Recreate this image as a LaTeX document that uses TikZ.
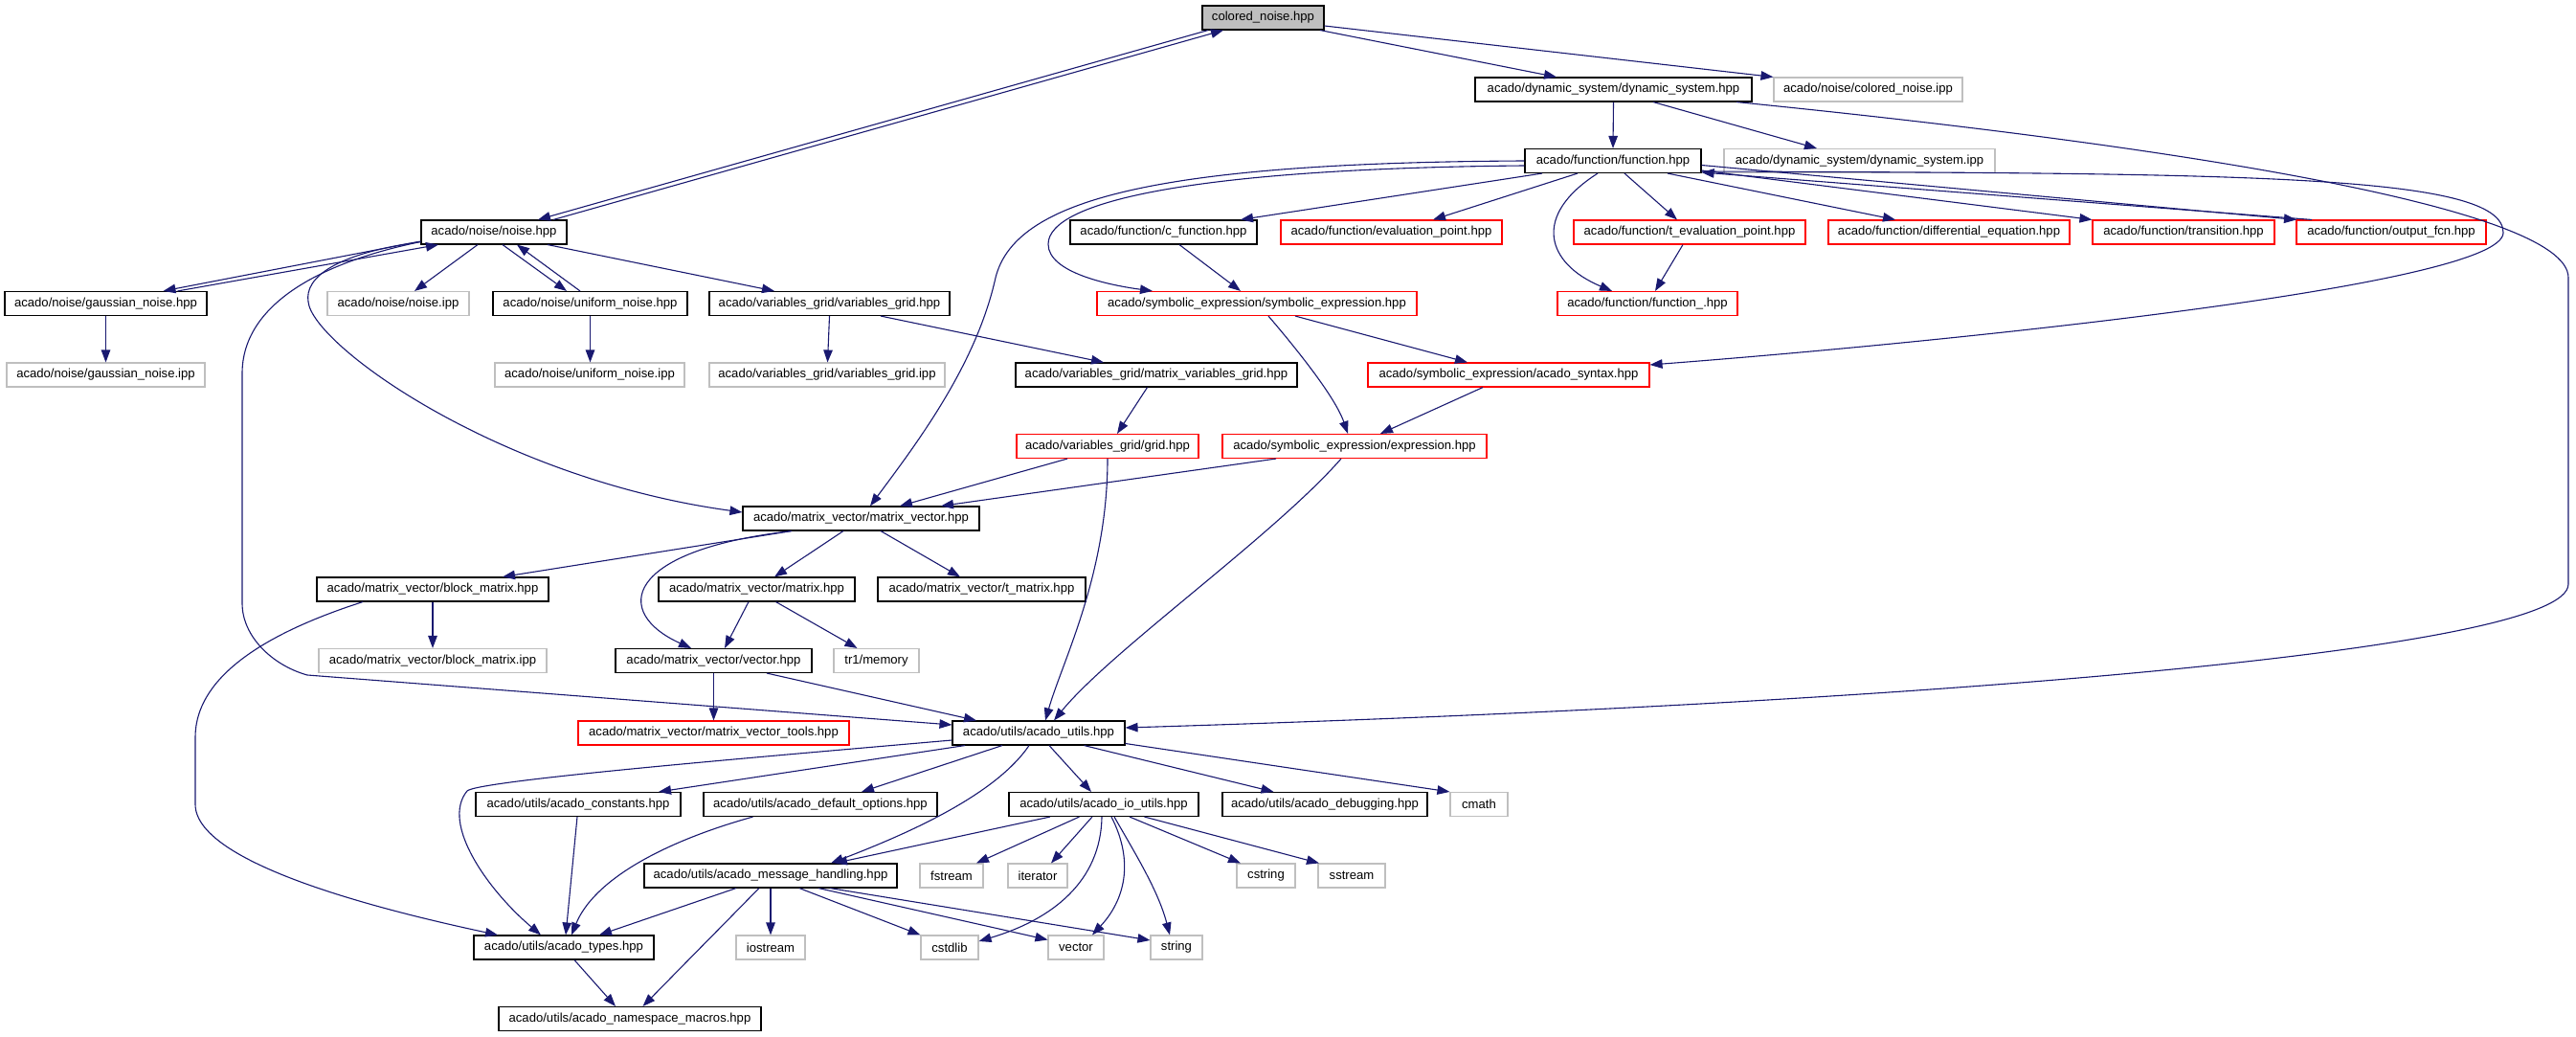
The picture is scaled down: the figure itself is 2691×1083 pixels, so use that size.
\documentclass[tikz,border=0pt]{standalone}
\usepackage{fontspec}
\setmainfont{Liberation Sans}
\usetikzlibrary{arrows.meta}
\definecolor{edgec}{HTML}{191970}
\definecolor{graybd}{HTML}{BFBFBF}
\definecolor{grayfill}{HTML}{BFBFBF}
\definecolor{redbd}{HTML}{FF0000}
\tikzset{
  box/.style={draw=black, line width=1.1pt, fill=white, minimum height=25pt, inner xsep=3pt, inner ysep=2pt,
    font=\fontsize{13.1}{15}\selectfont},
  gbox/.style={box, draw=graybd},
  rbox/.style={box, draw=redbd},
  edge/.style={draw=edgec, line width=1.1pt, -{Triangle[length=13pt,width=9.5pt]}}
}
\begin{document}
\begin{tikzpicture}[x=1pt,y=-1pt]
\useasboundingbox (0,0) rectangle (2691,1083);
% row 0
\node[box, fill=grayfill, minimum width=127pt] (cn) at (1319.5,18.5) {colored\_noise.hpp};
% row 1
\node[box, minimum width=289pt] (ds) at (1685.5,93.5) {acado/dynamic\_system/dynamic\_system.hpp};
\node[gbox, minimum width=197pt] (cnipp) at (1951.5,93.5) {acado/noise/colored\_noise.ipp};
% row 2
\node[box, minimum width=184pt] (fn) at (1685,168) {acado/function/function.hpp};
\node[gbox, minimum width=283pt] (dsipp) at (1942.5,168) {acado/dynamic\_system/dynamic\_system.ipp};
% row 3
\node[box, minimum width=152pt] (noise) at (516,242.5) {acado/noise/noise.hpp};
\node[box, minimum width=195pt] (cfun) at (1215.5,242.5) {acado/function/c\_function.hpp};
\node[rbox, minimum width=231pt] (evalp) at (1453.5,242.5) {acado/function/evaluation\_point.hpp};
\node[rbox, minimum width=242pt] (tevalp) at (1765,242.5) {acado/function/t\_evaluation\_point.hpp};
\node[rbox, minimum width=252pt] (diffeq) at (2036,242.5) {acado/function/differential\_equation.hpp};
\node[rbox, minimum width=190pt] (trans) at (2281,242.5) {acado/function/transition.hpp};
\node[rbox, minimum width=198pt] (outfcn) at (2498,242.5) {acado/function/output\_fcn.hpp};
% row 4
\node[box, minimum width=211pt] (gauss) at (110.5,317) {acado/noise/gaussian\_noise.hpp};
\node[gbox, minimum width=148pt] (noiseipp) at (416,317) {acado/noise/noise.ipp};
\node[box, minimum width=203pt] (uniform) at (616.5,317) {acado/noise/uniform\_noise.hpp};
\node[box, minimum width=251pt] (vgrid) at (866.5,317) {acado/variables\_grid/variables\_grid.hpp};
\node[rbox, minimum width=334pt] (symexpr) at (1313,317) {acado/symbolic\_expression/symbolic\_expression.hpp};
\node[rbox, minimum width=188pt] (funcu) at (1721,317) {acado/function/function\_.hpp};
% row 5
\node[gbox, minimum width=207pt] (gaussipp) at (110.5,391.5) {acado/noise/gaussian\_noise.ipp};
\node[gbox, minimum width=198pt] (uniipp) at (616,391.5) {acado/noise/uniform\_noise.ipp};
\node[gbox, minimum width=246pt] (vgridipp) at (864,391.5) {acado/variables\_grid/variables\_grid.ipp};
\node[box, minimum width=294pt] (mvgrid) at (1208,391.5) {acado/variables\_grid/matrix\_variables\_grid.hpp};
\node[rbox, minimum width=294pt] (acsyn) at (1576,391.5) {acado/symbolic\_expression/acado\_syntax.hpp};
% row 6
\node[rbox, minimum width=190pt] (grid) at (1157,466) {acado/variables\_grid/grid.hpp};
\node[rbox, minimum width=276pt] (expr) at (1415,466) {acado/symbolic\_expression/expression.hpp};
% row 7
\node[box, minimum width=247pt] (mv) at (899.5,541.5) {acado/matrix\_vector/matrix\_vector.hpp};
% row 8
\node[box, minimum width=242pt] (blockm) at (452,615.5) {acado/matrix\_vector/block\_matrix.hpp};
\node[box, minimum width=205pt] (matrix) at (790.5,615.5) {acado/matrix\_vector/matrix.hpp};
\node[box, minimum width=217pt] (tmat) at (1025.5,615.5) {acado/matrix\_vector/t\_matrix.hpp};
% row 9
\node[gbox, minimum width=238pt] (blockipp) at (452,690) {acado/matrix\_vector/block\_matrix.ipp};
\node[box, minimum width=205pt] (vector) at (745.5,690) {acado/matrix\_vector/vector.hpp};
\node[gbox, minimum width=89pt] (tr1) at (915.5,690) {tr1/memory};
% row 10
\node[rbox, minimum width=283pt] (mvtools) at (745.5,765.5) {acado/matrix\_vector/matrix\_vector\_tools.hpp};
\node[box, minimum width=180pt] (utils) at (1085,765.5) {acado/utils/acado\_utils.hpp};
% row 11
\node[box, minimum width=214pt] (consts) at (604,840) {acado/utils/acado\_constants.hpp};
\node[box, minimum width=244pt] (defopts) at (857,840) {acado/utils/acado\_default\_options.hpp};
\node[box, minimum width=198pt] (ioutils) at (1153,840) {acado/utils/acado\_io\_utils.hpp};
\node[box, minimum width=214pt] (debug) at (1384,840) {acado/utils/acado\_debugging.hpp};
\node[gbox, minimum width=60pt] (cmath) at (1545,840) {cmath};
% row 12
\node[box, minimum width=264pt] (msgh) at (805,914.5) {acado/utils/acado\_message\_handling.hpp};
\node[gbox, minimum width=66pt] (fstream) at (994,914.5) {fstream};
\node[gbox, minimum width=62pt] (iter) at (1084,914.5) {iterator};
\node[gbox, minimum width=61pt] (cstring) at (1322.5,914.5) {cstring};
\node[gbox, minimum width=70pt] (sstream) at (1412,914.5) {sstream};
% row 13
\node[box, minimum width=188pt] (types) at (589,989.5) {acado/utils/acado\_types.hpp};
\node[gbox, minimum width=72pt] (iostream) at (805,989.5) {iostream};
\node[gbox, minimum width=60pt] (cstdlib) at (992,989.5) {cstdlib};
\node[gbox, minimum width=58pt] (vecstd) at (1124,989.5) {vector};
\node[gbox, minimum width=54pt] (string) at (1229,989.5) {string};
% row 14
\node[box, minimum width=274pt] (nsm) at (658,1064) {acado/utils/acado\_namespace\_macros.hpp};

% ---- edges ----
\draw[edge] ([xshift=-57.5]cn.south) -- ([xshift=46]noise.north);
\draw[edge] ([xshift=62]noise.north) -- ([xshift=-41.5]cn.south);
\draw[edge] ([xshift=59.5]cn.south) -- ([xshift=-59.5]ds.north);
\draw[edge] ([yshift=-8.5]cn.east) -- (cnipp.north west);
\draw[edge] (ds.south) -- (fn.north);
\draw[edge] ([xshift=41.5]ds.south) -- ([xshift=-44.5]dsipp.north);
\draw[edge] ([xshift=128.5]ds.south) .. controls (2250,150) and (2683,215) .. (2683,290)
   -- (2683,610) .. controls (2683,680) and (2000,735) .. ([yshift=5.5]utils.east);
\draw[edge] ([xshift=-74]fn.south) -- ([xshift=80.5]cfun.north);
\draw[edge] ([xshift=-37]fn.south) -- ([xshift=43.5]evalp.north);
\draw[edge] ([xshift=-16]fn.south) .. controls (1600,225) and (1615,275) .. ([xshift=-37]funcu.north);
\draw[edge] ([xshift=12]fn.south) -- ([xshift=-13]tevalp.north);
\draw[edge] ([xshift=57]fn.south) -- ([xshift=-56]diffeq.north);
\draw[edge] ([yshift=-10]fn.east) -- (trans.north west);
\draw[edge] ([yshift=-4.5]fn.east) -- ([xshift=-99]outfcn.north);
\draw[edge] ([xshift=-83]outfcn.north) -- ([yshift=-12]fn.east);
\draw[edge] ([yshift=-11]fn.east) .. controls (2350,181) and (2615,182) .. (2615,243)
   .. controls (2615,300) and (2000,360) .. ([yshift=10.5]acsyn.east);
\draw[edge] ([yshift=-5]fn.west) .. controls (1250,176) and (1095,210) .. (1095,255)
   .. controls (1095,285) and (1160,298) .. ([xshift=-109]symexpr.north);
\draw[edge] (fn.west) .. controls (1200,170) and (1060,210) .. (1040,290)
   .. controls (1020,380) and (960,460) .. ([xshift=9.5]mv.north);
\draw[edge] ([xshift=16.5]cfun.south) -- ([xshift=-17]symexpr.north);
\draw[edge] ([xshift=-7]tevalp.south) -- ([xshift=8]funcu.north);
\draw[edge] ([xshift=40]symexpr.south) -- ([xshift=-43]acsyn.north);
\draw[edge] ([xshift=12]symexpr.south) .. controls (1355,365) and (1395,415) .. ([xshift=-7]expr.north);
\draw[edge] ([xshift=-27]acsyn.south) -- ([xshift=27]expr.north);
% noise
\draw[edge] ([yshift=-9.5]noise.west) -- ([xshift=60]gauss.north);
\draw[edge] ([xshift=75]gauss.north) -- ([xshift=-58]noise.south);
\draw[edge] ([xshift=-17]noise.south) -- ([xshift=17]noiseipp.north);
\draw[edge] ([xshift=9]noise.south) -- ([xshift=-24.5]uniform.north);
\draw[edge] ([xshift=-10.5]uniform.north) -- ([xshift=24]noise.south);
\draw[edge] ([xshift=56]noise.south) -- ([xshift=-57.5]vgrid.north);
\draw[edge] ([yshift=-10]noise.west) .. controls (350,265) and (318,290) .. (322,315)
   .. controls (326,360) and (520,500) .. ([yshift=6.5]mv.west);
\draw[edge] ([yshift=-10]noise.west) .. controls (330,275) and (253,320) .. (253,390)
   -- (253,630) .. controls (253,665) and (285,695) .. (321,705) -- ([yshift=8.5]utils.west);
\draw[edge] (gauss.south) -- (gaussipp.north);
\draw[edge] (uniform.south) -- (uniform.south |- uniipp.north);
\draw[edge] (vgrid.south) -- ([xshift=0.5]vgridipp.north);
\draw[edge] ([xshift=53.5]vgrid.south) -- ([xshift=-55]mvgrid.north);
\draw[edge] ([xshift=-9.5]mvgrid.south) -- ([xshift=10]grid.north);
\draw[edge] ([xshift=-42]grid.south) -- ([xshift=40.5]mv.north);
\draw[edge] ([xshift=-82]expr.south) -- ([xshift=83.5]mv.north);
\draw[edge] (grid.south) .. controls (1157,600) and (1110,690) .. ([xshift=7]utils.north);
\draw[edge] ([xshift=-14]expr.south) .. controls (1330,560) and (1160,680) .. ([xshift=16]utils.north);
% matrix_vector
\draw[edge] ([xshift=-72.5]mv.south) -- ([xshift=73]blockm.north);
\draw[edge] ([xshift=-18.5]mv.south) -- ([xshift=18.5]matrix.north);
\draw[edge] ([xshift=-72.5]mv.south) .. controls (650,575) and (640,640) .. ([xshift=-23.5]vector.north);
\draw[edge] ([xshift=20.5]mv.south) -- ([xshift=-22.5]tmat.north);
\draw[edge] (blockm.south) -- (blockipp.north);
\draw[edge] ([xshift=-73]blockm.south) .. controls (250,670) and (204,720) .. (204,770)
   -- (204,840) .. controls (204,905) and (420,955) .. ([xshift=-69]types.north);
\draw[edge] ([xshift=-8.5]matrix.south) -- ([xshift=11.5]vector.north);
\draw[edge] ([xshift=20]matrix.south) -- ([xshift=-20]tr1.north);
\draw[edge] (vector.south) -- (mvtools.north);
\draw[edge] ([xshift=55.5]vector.south) -- ([xshift=-65]utils.north);
% utils
\draw[edge] ([xshift=-77]utils.south) -- ([xshift=84]consts.north);
\draw[edge] ([xshift=-38]utils.south) -- ([xshift=43]defopts.north);
\draw[edge] ([xshift=-10]utils.south) .. controls (1040,830) and (950,870) .. ([xshift=63]msgh.north);
\draw[edge] ([xshift=11]utils.south) -- ([xshift=-13]ioutils.north);
\draw[edge] ([xshift=47.5]utils.south) -- ([xshift=-53.5]debug.north);
\draw[edge] ([yshift=-11]utils.east) -- (cmath.north west);
\draw[edge] ([yshift=-7.5]utils.west) .. controls (800,790) and (500,815) .. (488,826)
   .. controls (460,860) and (510,930) .. ([xshift=-24]types.north);
% io utils
\draw[edge] ([xshift=-56]ioutils.south) -- ([xshift=67]msgh.north);
\draw[edge] ([xshift=-25.5]ioutils.south) -- ([xshift=26]fstream.north);
\draw[edge] ([xshift=-12]ioutils.south) -- ([xshift=14]iter.north);
\draw[edge] ([xshift=-2]ioutils.south) .. controls (1150,920) and (1100,960) .. ([yshift=6.5]cstdlib.east);
\draw[edge] ([xshift=8]ioutils.south) .. controls (1185,900) and (1175,940) .. ([xshift=17]vecstd.north);
\draw[edge] ([xshift=11]ioutils.south) .. controls (1185,890) and (1210,930) .. ([xshift=-7]string.north);
\draw[edge] ([xshift=27]ioutils.south) -- ([xshift=-26.5]cstring.north);
\draw[edge] ([xshift=42.5]ioutils.south) -- ([xshift=-34]sstream.north);
% message handling
\draw[edge] ([xshift=-36]msgh.south) -- ([xshift=37]types.north);
\draw[edge] ([xshift=-12]msgh.south) -- ([xshift=13.5]nsm.north);
\draw[edge] (msgh.south) -- (iostream.north);
\draw[edge] ([xshift=30]msgh.south) -- (cstdlib.north west);
\draw[edge] ([xshift=50]msgh.south) -- ([yshift=8]vecstd.west);
\draw[edge] ([xshift=62]msgh.south) -- ([yshift=7.5]string.west);
\draw[edge] ([xshift=11]types.south) -- ([xshift=-15]nsm.north);
\draw[edge] ([xshift=-1]consts.south) -- ([xshift=2]types.north);
\draw[edge] ([xshift=-70.5]defopts.south) .. controls (690,880) and (620,920) .. ([xshift=8]types.north);
\end{tikzpicture}
\end{document}
